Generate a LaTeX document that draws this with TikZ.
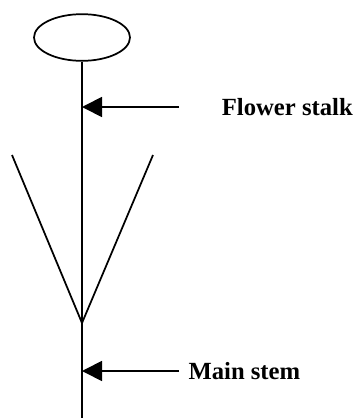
\documentclass[tikz,border=0pt]{standalone}
\usepackage{fontspec}
\setmainfont{Liberation Serif}
\usetikzlibrary{positioning}
\usetikzlibrary{arrows.meta}
\usetikzlibrary{shapes.geometric}

\begin{document}
\begin{tikzpicture}[x=0.75pt, y=-0.75pt, line width=1.3pt,
  pointer/.style={-{Triangle[length=15pt,width=15pt]}},
  tag/.style={font=\fontsize{18.5}{20}\selectfont\bfseries, inner sep=0pt, anchor=west}]
  \useasboundingbox (0,0) rectangle (356,418);

  % Flower head and stem
  \node[ellipse, draw, minimum width=72pt, minimum height=35pt, inner sep=0pt] (flower) at (82,37.5) {};
  \coordinate (root) at (82,418);
  \coordinate (fork) at (82,323);
  \draw (flower.south) -- (root);

  % Leaves
  \coordinate (leafL) at (12,155);
  \coordinate (leafR) at (153,155);
  \draw (leafL) -- (fork) -- (leafR);

  % Labels with arrows
  \coordinate (stalk) at (82,107);
  \coordinate (stalktail) at (179,107);
  \node[tag, right=31.5pt of stalktail] (stalklabel) {Flower stalk};
  \draw[pointer] (stalktail) -- (stalk);

  \coordinate (stem) at (82,371);
  \coordinate (stemtail) at (179,371);
  \node[tag, right=6.5pt of stemtail] (stemlabel) {Main stem};
  \draw[pointer] (stemtail) -- (stem);
\end{tikzpicture}
\end{document}
